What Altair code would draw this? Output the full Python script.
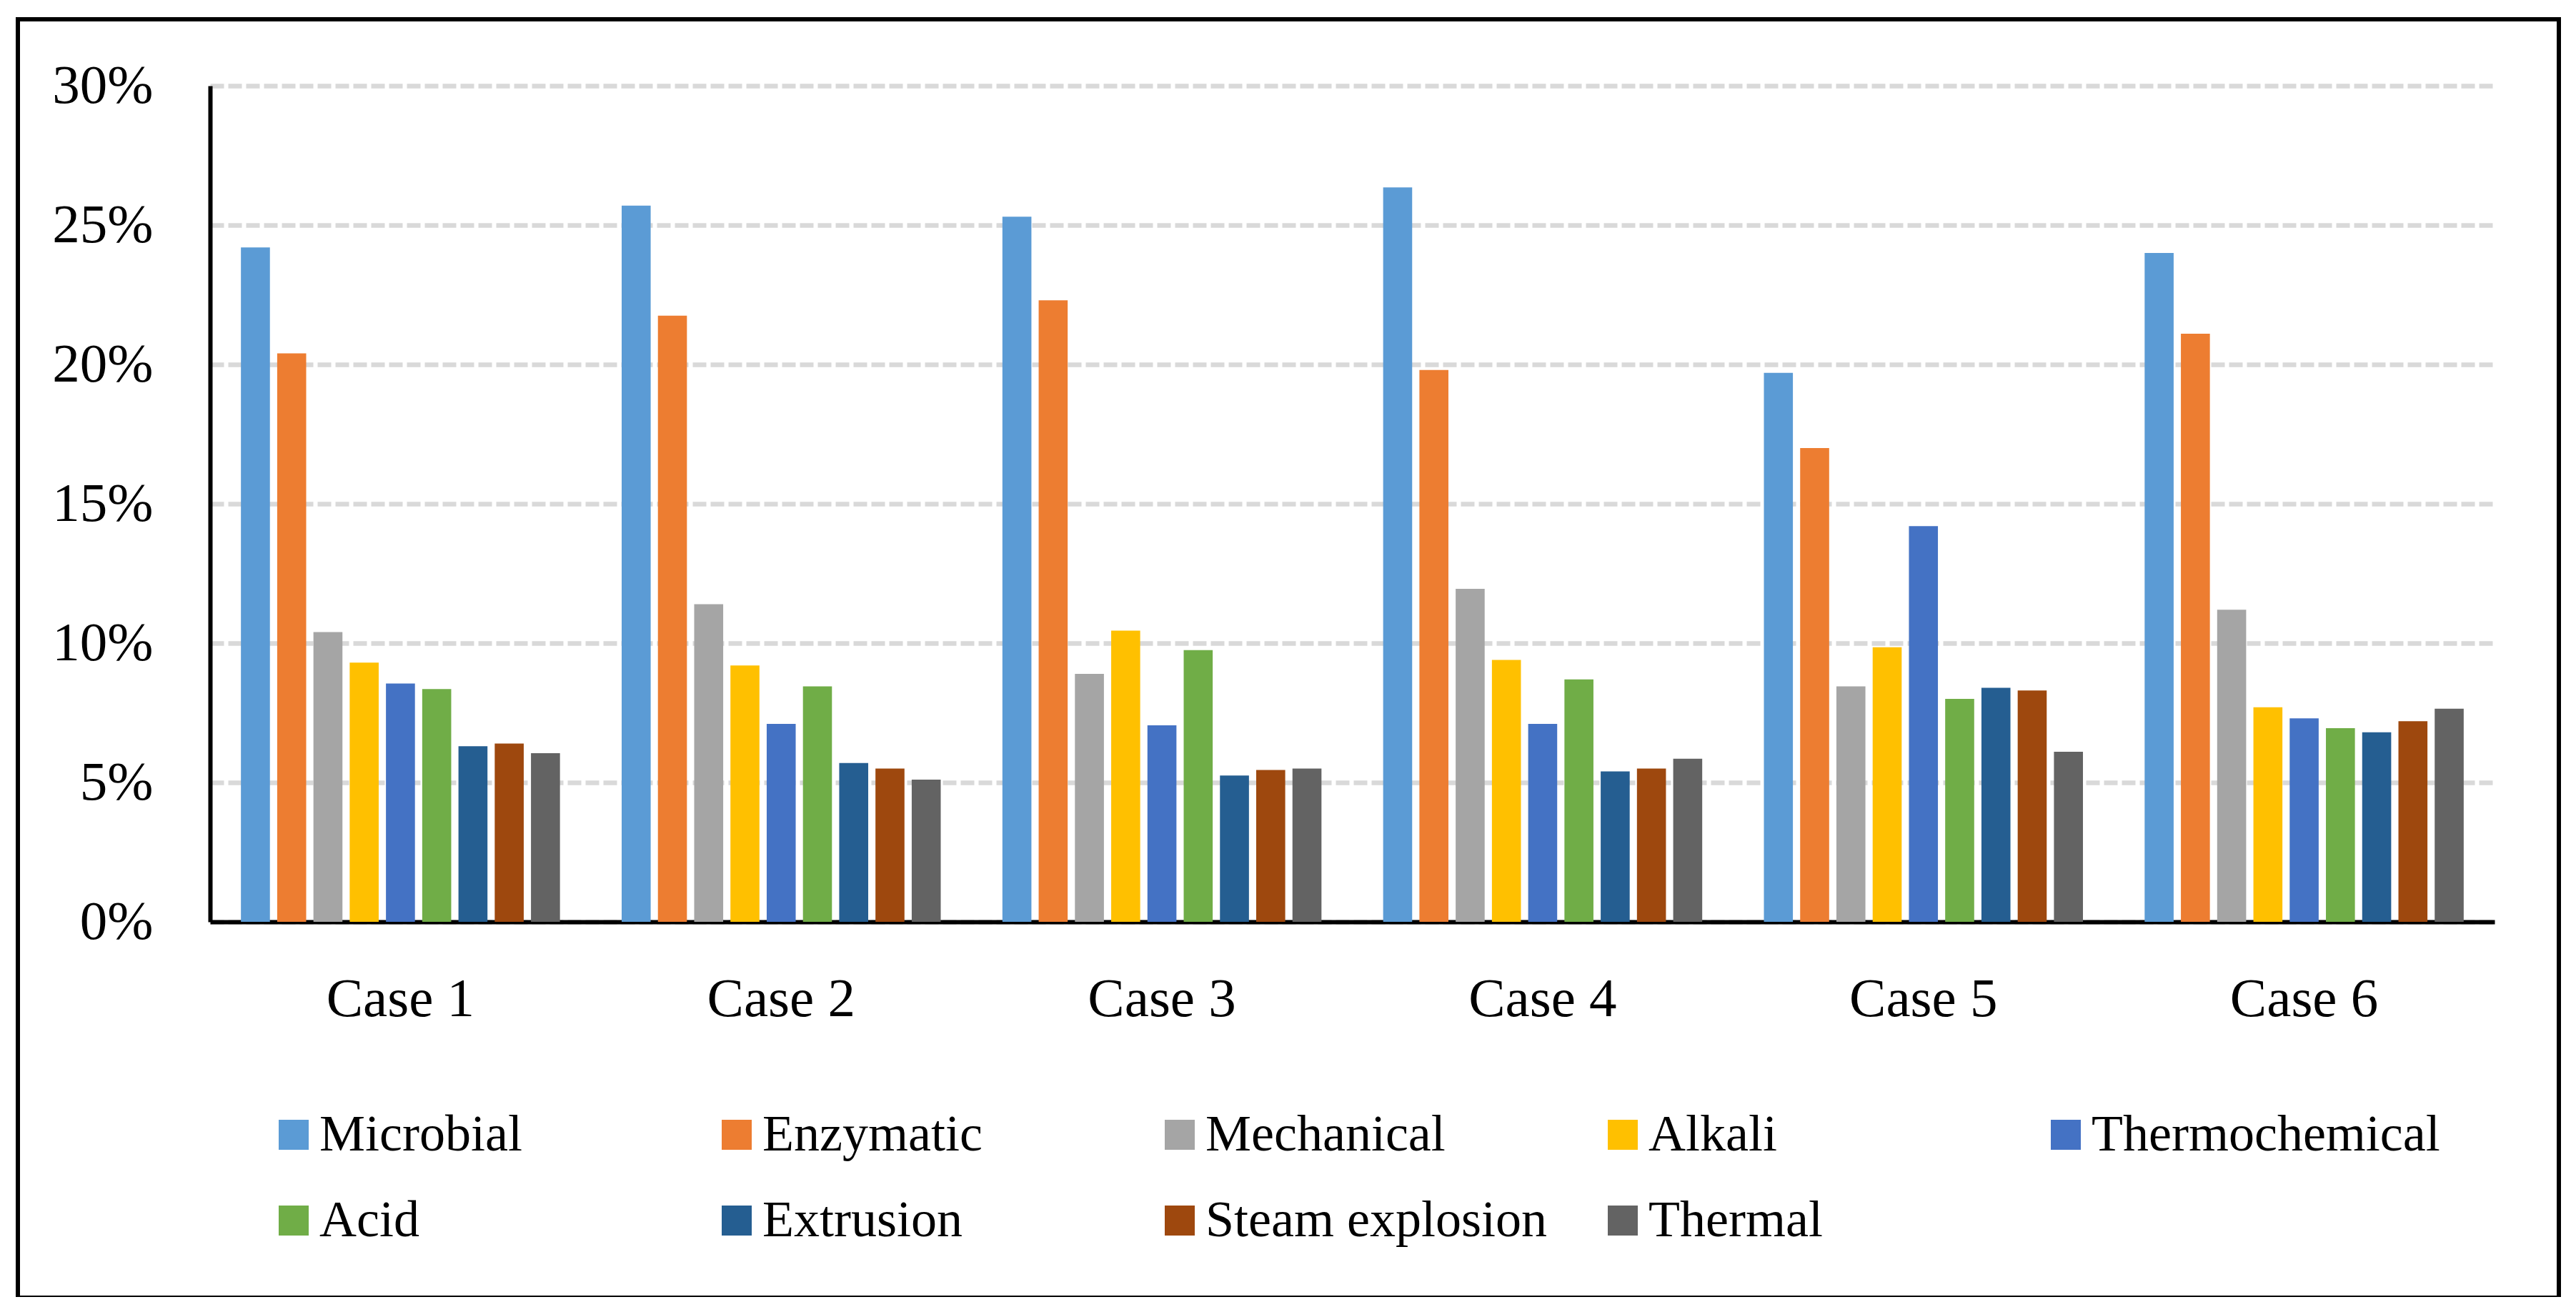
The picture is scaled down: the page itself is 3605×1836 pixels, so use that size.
import altair as alt
import pandas as pd

cases = ["Case 1", "Case 2", "Case 3", "Case 4", "Case 5", "Case 6"]
methods = ["Microbial", "Enzymatic", "Mechanical", "Alkali", "Thermochemical",
           "Acid", "Extrusion", "Steam explosion", "Thermal"]
colors = ["#5B9BD5", "#ED7D31", "#A5A5A5", "#FFC000", "#4472C4",
          "#70AD47", "#255E91", "#9E480E", "#636363"]

microbial = [24.2, 25.7, 25.3, 26.35, 19.7, 24.0]
enzymatic = [20.4, 21.75, 22.3, 19.8, 17.0, 21.1]
mechanical = [10.4, 11.4, 8.9, 11.95, 8.45, 11.2]
alkali = [9.3, 9.2, 10.45, 9.4, 9.85, 7.7]
thermochemical = [8.55, 7.1, 7.05, 7.1, 14.2, 7.3]
acid = [8.35, 8.45, 9.75, 8.7, 8.0, 6.95]
extrusion = [6.3, 5.7, 5.25, 5.4, 8.4, 6.8]
steam_explosion = [6.4, 5.5, 5.45, 5.5, 8.3, 7.2]
thermal = [6.05, 5.1, 5.5, 5.85, 6.1, 7.65]

series = [microbial, enzymatic, mechanical, alkali, thermochemical,
          acid, extrusion, steam_explosion, thermal]

rows = []
for m, vals in zip(methods, series):
    for c, v in zip(cases, vals):
        rows.append({"Case": c, "Method": m, "Value": v / 100.0})
df = pd.DataFrame(rows)

FONT = "Liberation Serif"
W, H = 3197, 1170

bars = alt.Chart(df).mark_bar().encode(
    x=alt.X("Case:N", sort=cases,
            scale=alt.Scale(paddingInner=0.162, paddingOuter=0.081),
            axis=alt.Axis(title=None, labelAngle=0, labelFont=FONT, labelFontSize=77,
                          labelColor="black", labelPadding=70, labelLimit=2000,
                          ticks=False, tickSize=0,
                          domainColor="black", domainWidth=6, grid=False)),
    xOffset=alt.XOffset("Method:N", sort=methods,
                        scale=alt.Scale(domain=methods, paddingInner=0.2, paddingOuter=0)),
    y=alt.Y("Value:Q",
            scale=alt.Scale(domain=[0, 0.30], nice=False),
            axis=alt.Axis(title=None, values=[0, 0.05, 0.10, 0.15, 0.20, 0.25, 0.30],
                          format=".0%", labelFont=FONT, labelFontSize=77,
                          labelColor="black", labelPadding=80, ticks=False, tickSize=0,
                          domainColor="black", domainWidth=6,
                          grid=True, gridColor="#D9D9D9", gridWidth=6.5, gridDash=[19, 6])),
    color=alt.Color("Method:N", sort=methods,
                    scale=alt.Scale(domain=methods, range=colors),
                    legend=alt.Legend(title=None, orient="none", legendX=81, legendY=1432,
                                      direction="horizontal",
                                      columns=5, gridAlign="all", columnPadding=60,
                                      rowPadding=48, symbolType="square", symbolSize=1764,
                                      symbolStrokeWidth=0, labelOffset=0, labelLimit=2000,
                                      labelFont=FONT, labelFontSize=72, labelColor="black",
                                      padding=0)),
)

frame_df = pd.DataFrame({"f": [1]})
frame = alt.Chart(frame_df).mark_rect(fillOpacity=0, stroke="black", strokeWidth=6,
                                      clip=False).encode(
    x=alt.value(-269), x2=alt.value(3287), y=alt.value(-93), y2=alt.value(1696)
)

chart = alt.layer(bars, frame).properties(
    width=W, height=H,
    autosize=alt.AutoSizeParams(type="none"),
    padding={"left": 286, "top": 112, "right": 95, "bottom": 525},
    background="white",
).configure_view(strokeWidth=0)

chart.save("out.html", embed_options={"renderer": "svg", "actions": False})
